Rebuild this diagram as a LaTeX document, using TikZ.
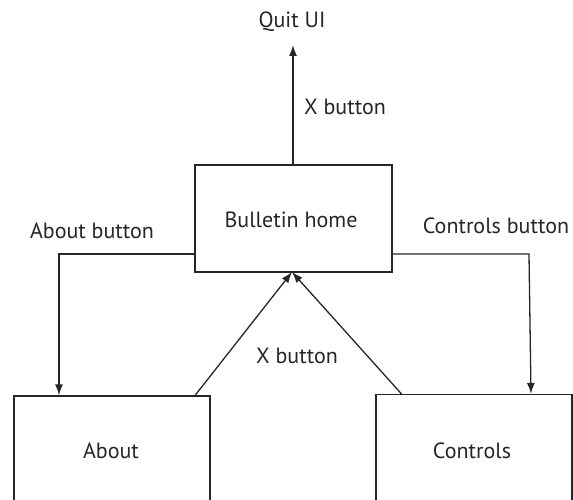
\documentclass[tikz,border=0pt]{standalone}
\usepackage{fontspec}
\setmainfont{PT Sans}
\usetikzlibrary{arrows.meta}
\begin{document}
\begin{tikzpicture}[x=1pt,y=-1pt,
  box/.style={draw=black!85,line width=1.3pt,rectangle,inner sep=0pt},
  lbl/.style={inner sep=0pt,text=black!85,font=\fontsize{22}{26}\selectfont,anchor=base},
  conn/.style={draw=black!85,line width=1.3pt},
  arr/.style={conn,-{Latex[length=11pt,width=8pt]}}]
\useasboundingbox (0,0) rectangle (573,500);
\clip (0,0) rectangle (573,500);
% boxes
\node[box,minimum width=197pt,minimum height=107pt] (home) at (293.5,218.5) {};
\node[box,minimum width=196pt,minimum height=109pt] (about) at (112,450.5) {};
\node[box,minimum width=196pt,minimum height=112pt] (controls) at (474,450.5) {};
% box texts
\node[lbl] (hometext) at (291,227) {Bulletin home};
\node[lbl] (abouttext) at (111,458) {About};
\node[lbl] (controlstext) at (472,458) {Controls};
% edge labels
\node[lbl] (quit) at (292,28) {Quit UI};
\node[lbl] (xtop) at (345,115) {X button};
\node[lbl] (xmid) at (297,363) {X button};
\node[lbl] (aboutbtn) at (92,238) {About button};
\node[lbl] (controlsbtn) at (496,233) {Controls button};
% coordinates
\coordinate (quittip) at (293,45);
\coordinate (homeW) at (195,254);
\coordinate (bendL) at (59,254);
\coordinate (homeE) at (392,254);
\coordinate (bendR) at (529,254);
\coordinate (homeB) at (292,272);
\coordinate (aboutT) at (195,395.5);
\coordinate (controlsT) at (402,394.5);
% connectors
\draw[arr] (home.north -| quittip) -- (quittip);
\draw[arr] (homeW) -- (bendL) -- (bendL |- about.north);
\draw[arr] (homeE) -- (bendR) -- ([xshift=2pt]bendR |- controls.north);
\draw[arr] (aboutT) -- (homeB);
\draw[arr] (controlsT) -- (homeB);
\end{tikzpicture}
\end{document}
